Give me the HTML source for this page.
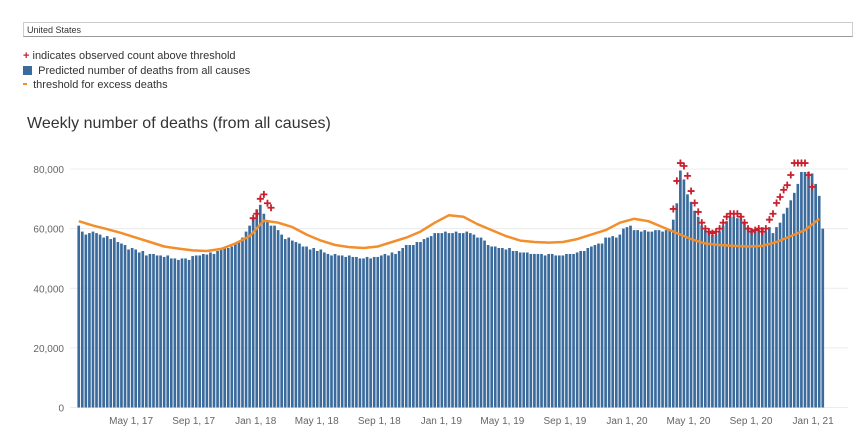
<!DOCTYPE html>
<html><head><meta charset="utf-8">
<style>
body{margin:0;background:#fff;font-family:"Liberation Sans",sans-serif;}
#wrap{position:relative;width:861px;height:441px;overflow:hidden;}
.sel{position:absolute;left:23px;top:22px;width:830px;height:15px;border:1px solid #ccc;border-bottom-color:#999;font-size:9px;color:#333;line-height:15px;padding-left:3px;box-sizing:border-box}
.leg{position:absolute;left:23px;font-size:11px;color:#333;}
.title{position:absolute;left:27px;top:115px;font-size:16px;color:#333;}
</style></head><body>
<div id="wrap">
<div class="sel">United States</div>
<div class="leg" style="top:50px"><span style="color:#c8202f;font-weight:bold">+</span>&nbsp;indicates observed count above threshold</div>
<div class="leg" style="top:65px"><span style="display:inline-block;width:9px;height:9px;background:#3a6b9c;vertical-align:-1px"></span>&nbsp;&nbsp;Predicted number of deaths from all causes</div>
<div class="leg" style="top:79px"><span style="display:inline-block;width:4px;height:2px;background:#f28e2b;vertical-align:3px"></span>&nbsp;&nbsp;threshold for excess deaths</div>
<div class="title">Weekly number of deaths (from all causes)</div>
<svg id="chart" width="861" height="441" style="position:absolute;left:0;top:0"></svg>
</div>
<script>
const predicted = [
61,59,58,58.5,59,58.5,58,57,57.5,56.5,57,55.5,55,54.5,53,53.5,53,52,52.5,51,51.5,51.5,51,51,50.5,51,50,50,49.5,50,50,49.5,50.8,51,51,51.5,51.3,52,51.5,52.5,53.5,53.3,53.5,54,55,55.5,57,59,61,63.5,
66.5,68,65,62.5,61,61,59.5,58,56.5,57,56,55.5,55,54,54,53,53.5,52.5,53,52,51.5,51,51.5,51,51,50.5,51,50.5,50.5,50,50,50.5,50,50.5,50.5,51,51.5,51,52,51.5,52.5,53.5,54.5,54.5,54.5,55.5,55.5,56.5,57,57.5,58.5,58.5,58.5,59,
58.5,58.5,59,58.5,58.5,59,58.5,58,57,57,56,54.5,54,54,53.5,53.5,53,53.5,52.5,52.5,52,52,52,51.5,51.5,51.5,51.5,51,51.5,51.5,51,51,51,51.5,51.5,51.5,52,52.5,52.5,53.5,54,54.5,55,55,57,57,57.5,57,58,60,
60.5,61,59.5,59.5,59,59.5,59,59,59.5,59.5,59,59.5,59.5,63,68.5,79.5,76.5,71.5,69,66,64,61,59.5,59,58,58,59,61,62.5,64,64,63.5,63.5,62,60.5,60,59.5,59.5,60.5,59,60.5,58.5,60.5,62,65,67,69.5,72,75,79,79,79,78.5,75,71,60];
const thresholdWeeks = [0,4,8,12,16,20,24,28,32,36,40,44,48,52,56,60,64,68,72,76,80,84,88,92,96,100,104,108,112,116,120,124,128,132,136,140,144,148,152,156,160,164,168,172,176,180,184,188,192,196,200,204,208];
const thresholdValues = [62.5,61,59.8,58.5,57,55.5,54,53.3,52.7,52.5,53.2,55,57.5,62.7,62,60.5,58,56,54.5,53.8,53.5,54,55.5,57,59,62,64.5,64,61.5,59.5,57.5,56,55.5,55.3,55.5,56.5,58,59.5,62,63.3,62.5,60.5,58.5,56.5,55,54.5,54.2,54,54.2,55.5,57.5,59.5,63.3];
const crossWeeks = [49,50,51,52,53,54,167,168,169,170,171,172,173,174,175,176,177,178,179,180,181,182,183,184,185,186,187,188,189,190,191,192,193,194,195,196,197,198,199,200,201,202,203,204,205,206];
const crossValues = [63.5,65,70,71.5,68.5,67,66.6,76,82,81,77.7,72.6,68.6,65.6,62,60,59,58.5,59,60,62,64,65,65,65,64,62,60,59,59.5,60,59,60,63,65,68.6,70.6,73,74.6,78,82,82,82,82,78,74];
const yTicks = [0,20000,40000,60000,80000];
const xTickDates = ["2017-05-01","2017-09-01","2018-01-01","2018-05-01","2018-09-01","2019-01-01","2019-05-01","2019-09-01","2020-01-01","2020-05-01","2020-09-01","2021-01-01"];
const xTickLabels = ["May 1, 17","Sep 1, 17","Jan 1, 18","May 1, 18","Sep 1, 18","Jan 1, 19","May 1, 19","Sep 1, 19","Jan 1, 20","May 1, 20","Sep 1, 20","Jan 1, 21"];

const NS="http://www.w3.org/2000/svg";
const svg=document.getElementById('chart');
const x0=77, base=407.5, top80=169;
const step=3.56;
const xW=w=>x0+w*step;
const y=v=>base-(v/80)*(base-top80);
function mk(t,a){const e=document.createElementNS(NS,t);for(const k in a)e.setAttribute(k,a[k]);svg.appendChild(e);return e;}
yTicks.forEach(t=>{
  const yy=y(t/1000);
  const g=mk('line',{x1:70,x2:848,y1:yy,y2:yy,stroke:'#ececec','stroke-width':1});
  
  
  const tx=mk('text',{x:64,y:yy+4,'text-anchor':'end','font-size':10,fill:'#666','font-family':'Liberation Sans, sans-serif'});
  tx.textContent=t.toLocaleString('en-US');
  
  
});
predicted.forEach((v,i)=>{
  const r=mk('rect',{x:xW(i)+0.4,y:y(v),width:step-0.9,height:base-y(v),fill:'#3a6b9c'});
  
  
});
const pts=thresholdWeeks.map((w,i)=>(xW(w)+step/2).toFixed(1)+','+y(thresholdValues[i]).toFixed(1)).join(' ');
const pl=mk('polyline',{points:pts,fill:'none',stroke:'#f28e2b','stroke-width':2.5,'stroke-linejoin':'round'});


crossWeeks.forEach((w,i)=>{
  const cx=xW(w)+step/2, cy=y(crossValues[i]);
  const p=mk('path',{d:`M${cx-3.5},${cy}H${cx+3.5}M${cx},${cy-3.5}V${cy+3.5}`,stroke:'#c8202f','stroke-width':1.8});
  
  
});
const ref=new Date('2018-01-01T00:00:00Z').getTime();
xTickDates.forEach((d,i)=>{
  const w=50.2+(new Date(d+'T00:00:00Z').getTime()-ref)/(7*864e5);
  const tx=mk('text',{x:xW(w),y:424,'text-anchor':'middle','font-size':10,fill:'#666','font-family':'Liberation Sans, sans-serif'});
  tx.textContent=xTickLabels[i];
  
  
});
</script>
</body></html>
